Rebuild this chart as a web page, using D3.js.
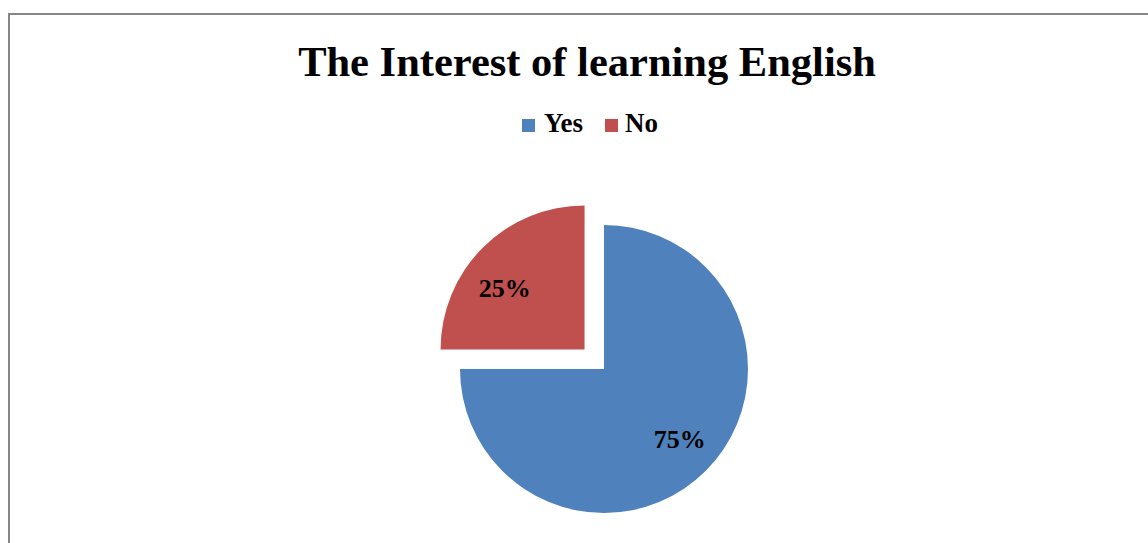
<!DOCTYPE html>
<html>
<head>
<meta charset="utf-8">
<script src="https://cdn.jsdelivr.net/npm/d3@7"></script>
<style>
  html, body { margin: 0; padding: 0; background: #fff; }
  svg { display: block; }
</style>
</head>
<body>
<svg id="chart" width="1148" height="543"></svg>
<script>
// Survey answers and their shares
const categories = ["Yes", "No"];
const values = [75, 25];
const colors = ["#4F81BD", "#C0504D"];
const title = "The Interest of learning English";

const svg = d3.select("#chart");
const W = 1148, H = 543;
const font = "'Liberation Serif', 'Times New Roman', serif";

// chart frame
svg.append("path")
  .attr("d", `M9,${H + 2} V14 H${W + 2}`)
  .attr("fill", "none")
  .attr("stroke", "#868686")
  .attr("stroke-width", 2);

// title
svg.append("text")
  .attr("x", 587)
  .attr("y", 76)
  .attr("text-anchor", "middle")
  .attr("font-family", font)
  .attr("font-weight", "bold")
  .attr("font-size", 42.5)
  .text(title);

// legend
const legend = svg.append("g").attr("transform", "translate(522,119)");
const legendX = d3.scaleOrdinal().domain(categories).range([0, 83]);
const item = legend.selectAll("g.item")
  .data(categories)
  .join("g")
  .attr("class", "item")
  .attr("transform", d => `translate(${legendX(d)},0)`);
item.append("rect")
  .attr("width", 13).attr("height", 13)
  .attr("fill", (d, i) => colors[i]);
item.append("text")
  .attr("x", d => d === "Yes" ? 22 : 20).attr("y", 13)
  .attr("font-family", font)
  .attr("font-weight", "bold")
  .attr("font-size", 27)
  .text(d => d);

// pie
const cx = 604, cy = 369, r = 144;
const explode = { "No": 27.5 };
const labelNudge = { "Yes": [3, -3], "No": [-7, 11] };
const pie = d3.pie().sort(null).value(d => d.value).startAngle(0);
const arcs = pie(categories.map((c, i) => ({ name: c, value: values[i], color: colors[i] })));
const arc = d3.arc().innerRadius(0).outerRadius(r);
const labelArc = d3.arc().innerRadius(103).outerRadius(103);

const g = svg.append("g").attr("transform", `translate(${cx},${cy})`);
const slice = g.selectAll("g.slice")
  .data(arcs)
  .join("g")
  .attr("class", "slice")
  .attr("transform", d => {
    const e = explode[d.data.name] || 0;
    const a = (d.startAngle + d.endAngle) / 2;
    return `translate(${e * Math.sin(a)},${-e * Math.cos(a)})`;
  });

slice.append("path")
  .attr("d", arc)
  .attr("fill", d => d.data.color);

slice.append("text")
  .attr("transform", d => {
    const [x, y] = labelArc.centroid(d);
    const [nx, ny] = labelNudge[d.data.name] || [0, 0];
    return `translate(${x + nx},${y + ny})`;
  })
  .attr("text-anchor", "middle")
  .attr("dy", "0.35em")
  .attr("font-family", font)
  .attr("font-weight", "bold")
  .attr("font-size", 26)
  .text(d => d.data.value + "%");
</script>
</body>
</html>
